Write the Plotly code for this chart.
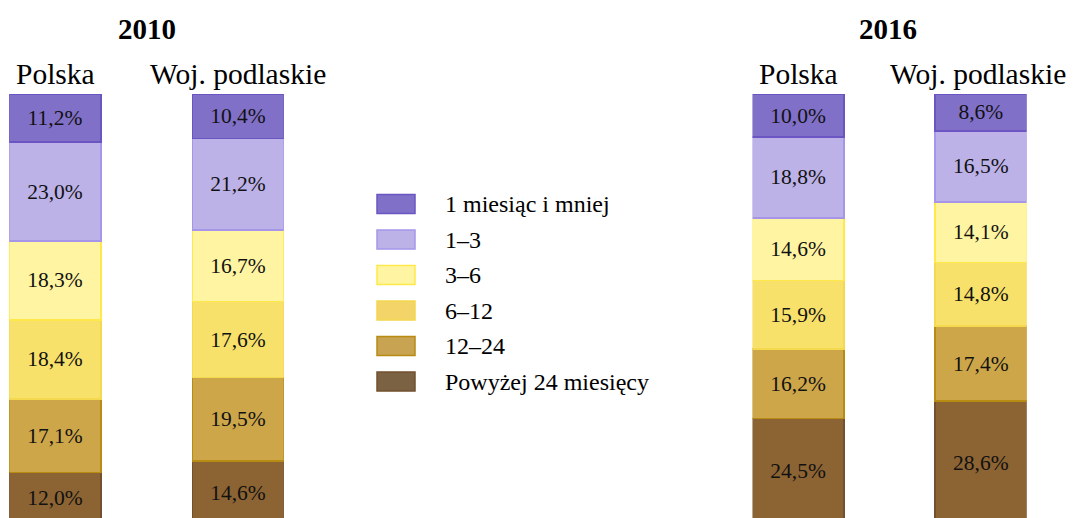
import plotly.graph_objects as go

# ---- data ----
years = ["2010", "2016"]
regions = ["Polska", "Woj. podlaskie"]
series = ["1 miesiąc i mniej", "1–3", "3–6", "6–12", "12–24", "Powyżej 24 miesięcy"]
# values per series: [2010 Polska, 2010 Woj., 2016 Polska, 2016 Woj.]
v_1m = [11.2, 10.4, 10.0, 8.6]
v_1_3 = [23.0, 21.2, 18.8, 16.5]
v_3_6 = [18.3, 16.7, 14.6, 14.1]
v_6_12 = [18.4, 17.6, 15.9, 14.8]
v_12_24 = [17.1, 19.5, 16.2, 17.4]
v_24p = [12.0, 14.6, 24.5, 28.6]
values = [v_1m, v_1_3, v_3_6, v_6_12, v_12_24, v_24p]

# ---- styles ----
fills = ["#8070C8", "#BCB2E8", "#FFF4A2", "#F8E16A", "#CDA64A", "#8C6333"]
borders = ["#6A55C2", "#A596EA", "#FFE94A", "#F4D84E", "#B88B12", "#745030"]
legend_fills = ["#8070C8", "#BCB2E8", "#FFF4A2", "#F3D468", "#C8A352", "#7B6242"]
FONT = "Liberation Serif, Times New Roman, serif"
W, H = 1073, 518
T = 94           # top margin (px)
PH = H - T       # plot-area height (px)


def py(p):
    """pixel y from top of figure -> paper y (relative to plot area)"""
    return 1 - (p - T) / PH


def px(p):
    return p / W


fig = go.Figure()
domains = [(9.25 / W, 283.75 / W), (752.5 / W, 1026.5 / W)]
for yi, yr in enumerate(years):
    xa = "x" if yi == 0 else "x2"
    for si in reversed(range(len(series))):
        vals = values[si][yi * 2: yi * 2 + 2]
        fig.add_trace(go.Bar(
            x=regions, y=vals, xaxis=xa, yaxis="y",
            name=series[si], showlegend=False, width=0.5,
            marker=dict(color=fills[si], line=dict(color=borders[si], width=1.5)),
            texttemplate="%{y:.1f}%", textposition="inside", insidetextanchor="middle",
            textfont=dict(family=FONT, size=21.5, color="#111111"),
            hoverinfo="skip",
        ))

fig.update_layout(
    width=W, height=H, barmode="stack", separators=", ",
    margin=dict(l=0, r=0, t=T, b=0),
    paper_bgcolor="white", plot_bgcolor="white",
    font=dict(family=FONT, color="#000000"),
    xaxis=dict(domain=list(domains[0]), range=[-0.25, 1.25], visible=False),
    xaxis2=dict(domain=list(domains[1]), range=[-0.25, 1.25], visible=False, anchor="y"),
    yaxis=dict(range=[1.4, 100], visible=False),
)

# titles and region labels
centers = [(55, 238), (798.5, 978)]
for yi, yr in enumerate(years):
    cx = (centers[yi][0] + centers[yi][1]) / 2
    fig.add_annotation(x=px(cx), y=py(29), xref="paper", yref="paper",
                       xanchor="center", yanchor="middle",
                       text=f"<b>{yr}</b>", showarrow=False,
                       font=dict(family=FONT, size=29, color="#000"))
    for ri, rg in enumerate(regions):
        fig.add_annotation(x=px(centers[yi][ri]), y=py(74), xref="paper", yref="paper",
                           xanchor="center", yanchor="middle",
                           text=rg, showarrow=False,
                           font=dict(family=FONT, size=29.5, color="#000"))

# manual legend
leg_y0 = 204
leg_dy = 35.5
for si, name in enumerate(series):
    yc = leg_y0 + si * leg_dy
    fig.add_shape(type="rect", xref="paper", yref="paper",
                  x0=px(377), x1=px(415), y0=py(yc - 9.5), y1=py(yc + 9.5),
                  fillcolor=legend_fills[si], line=dict(color=borders[si], width=1.5))
    fig.add_annotation(x=px(443), y=py(yc), xref="paper", yref="paper",
                       xanchor="left", yanchor="middle", text=name, showarrow=False,
                       font=dict(family=FONT, size=24, color="#000"))

fig.write_html("out.html", config={"displayModeBar": False},
               post_script="document.body.style.margin='0';")
